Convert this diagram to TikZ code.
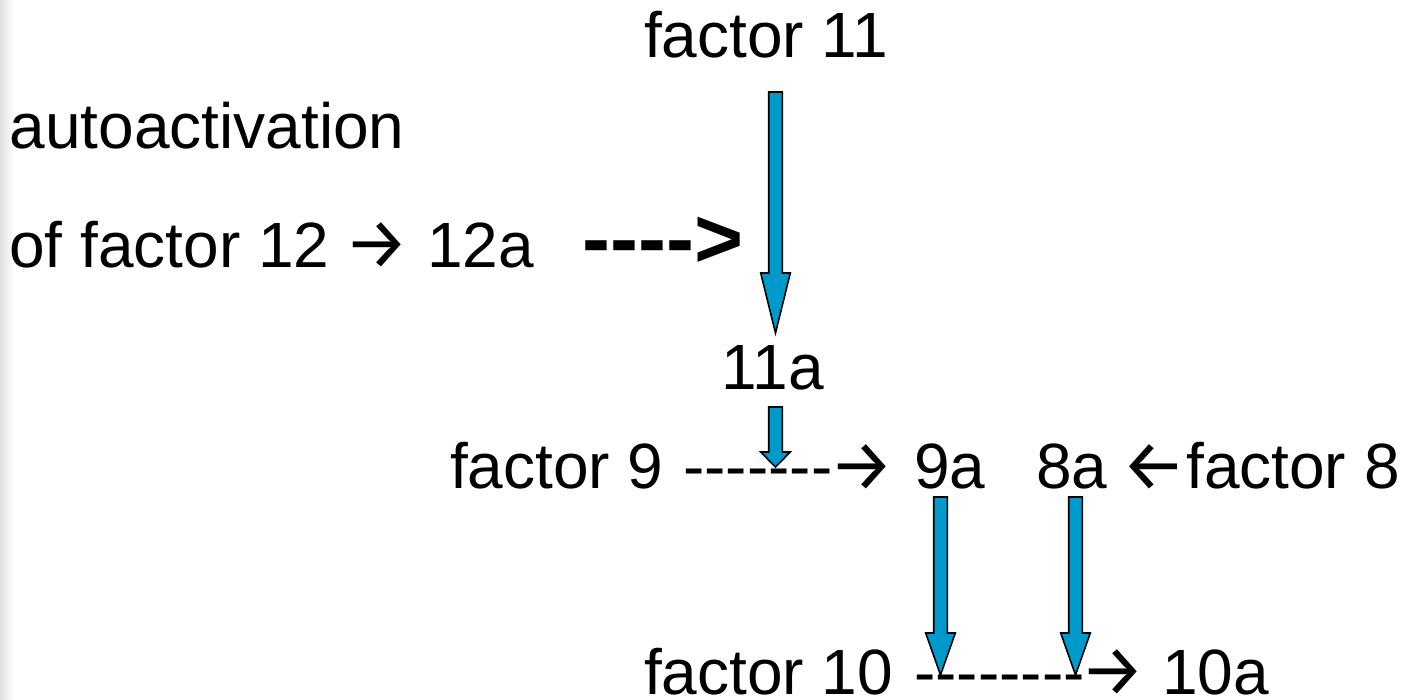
\documentclass[tikz,border=0pt]{standalone}
\usepackage{fontspec}
\setmainfont{Liberation Sans}
\newfontfamily\arrowfont{Fira Sans}
\usetikzlibrary{calc}
\definecolor{arrowblue}{RGB}{0,153,204}
\tikzset{
  lbl/.style={inner sep=0pt, anchor=base west, font=\fontsize{64}{70}\selectfont},
  arrlbl/.style={inner sep=0pt, anchor=base west, font=\arrowfont\fontsize{72}{76}\selectfont},
  boldlbl/.style={inner sep=0pt, anchor=base west, font=\bfseries\fontsize{84}{90}\selectfont},
  blk/.style={draw=black, line width=1.6pt, fill=arrowblue, line join=miter},
}
\newcommand\hy{-\kern0pt}
% #1 top coordinate, #2 tip coordinate, #3 head length
\newcommand\blkarrow[3]{%
  \draw[blk] let \p1=(#1), \p2=(#2) in
    (\x2-6.8pt,\y1) -- (\x2+6.8pt,\y1) -- (\x2+6.8pt,\y2+#3pt) -- (\x2+14.8pt,\y2+#3pt)
    -- (\x2,\y2) -- (\x2-14.8pt,\y2+#3pt) -- (\x2-6.8pt,\y2+#3pt) -- cycle;}
\begin{document}
\begin{tikzpicture}[x=1pt,y=-1pt]
\useasboundingbox (0,0) rectangle (1406,700);
\shade[left color=black!12, right color=white] (0,0) rectangle (14,700);

% texts
\node[lbl] (f11) at (644,58) {factor 11};
\node[lbl] (auto) at (9.5,149) {autoactivation};
\node[lbl] (of12) at (9,268) {of factor 12};
\node[arrlbl] (arr12) at (344,269) {→};
\node[lbl] (a12) at (427,268) {12a};
\node[boldlbl] (dash12) at (582,268) {\hy\hy\hy\hy>};
\node[lbl, anchor=base] (a11) at (773,390) {11a};

\node[lbl] (f9) at (450,489) {factor 9};
\node[lbl] (d9) at (683,489) {\hy\hy\hy\hy\hy\hy\hy};
\node[arrlbl] (arr9) at (829,490) {→};
\node[lbl] (a9) at (914,489) {9a};
\node[lbl] (a8) at (1036,489) {8a};
\node[arrlbl] (arr8) at (1121,490) {←};
\node[lbl] (f8) at (1186,489) {factor 8};

\node[lbl] (f10) at (644,694) {factor 10};
\node[lbl] (d10) at (914,694) {\hy\hy\hy\hy\hy\hy\hy\hy};
\node[arrlbl] (arr10) at (1080,695) {→};
\node[lbl] (a10) at (1162,694) {10a};

% block arrows
\coordinate (t1) at (775.5,92);   \coordinate (h1) at (775.5,333);
\coordinate (t2) at (775.5,407);  \coordinate (h2) at (775.5,467);
\coordinate (t3) at (940.5,497);  \coordinate (h3) at (940.5,675);
\coordinate (t4) at (1075.5,497); \coordinate (h4) at (1075.5,675);
\blkarrow{t1}{h1}{60}
\blkarrow{t2}{h2}{15}
\blkarrow{t3}{h3}{42}
\blkarrow{t4}{h4}{42}
\end{tikzpicture}
\end{document}
